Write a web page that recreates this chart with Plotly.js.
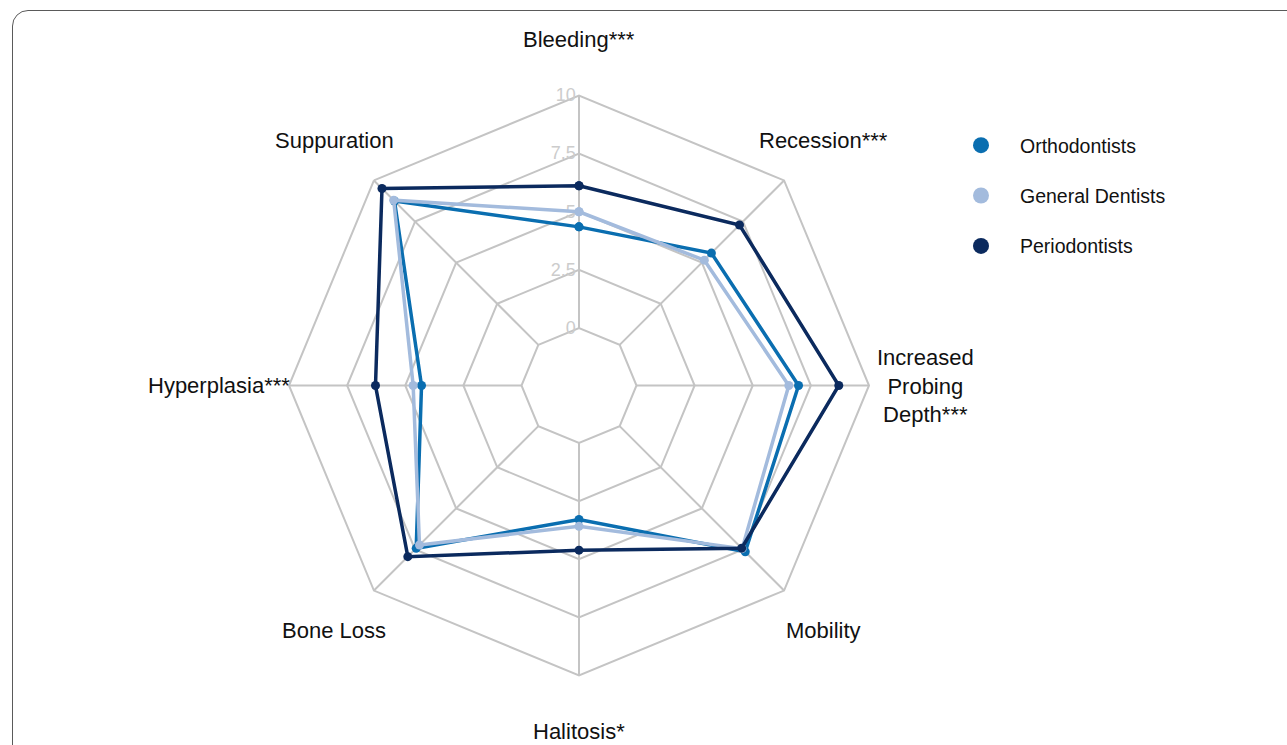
<!DOCTYPE html>
<html>
<head>
<meta charset="utf-8">
<script src="https://cdn.plot.ly/plotly-3.0.1.min.js"></script>
<style>
  html, body { margin: 0; padding: 0; background: #ffffff; overflow: hidden; }
  #chart { position: absolute; left: 0; top: 0; width: 1287px; height: 745px; }
  #frame { position: absolute; left: 12px; top: 10px; width: 1300px; height: 760px;
           border: 1.5px solid #5a5a5a; border-radius: 16px; pointer-events: none; }
</style>
</head>
<body>
<div id="chart"></div>
<div id="frame"></div>
<script>
// ---- data ----
var categories = ['Bleeding***', 'Recession***', 'Increased Probing Depth***', 'Mobility',
                  'Halitosis*', 'Bone Loss', 'Hyperplasia***', 'Suppuration'];
var axisLabels = ['Bleeding***', 'Recession***', 'Increased<br>Probing<br>Depth***', 'Mobility',
                  'Halitosis*', 'Bone Loss', 'Hyperplasia***', 'Suppuration'];
var seriesNames = ['Orthodontists', 'General Dentists', 'Periodontists'];
var orthodontists   = [4.35, 5.58, 6.97, 7.64, 3.29, 7.43, 4.30, 8.75];
var generalDentists = [5.00, 5.15, 6.55, 7.45, 3.58, 7.23, 4.66, 8.80];
var periodontists   = [6.12, 7.29, 8.70, 7.42, 4.61, 7.94, 6.28, 9.51];
var radialTicks = [0, 2.5, 5, 7.5, 10];

// ---- style ----
var colors = ['#0a6eb0', '#a3bbdd', '#0b2a5e'];
var gridColor = '#c4c4c4';
var font = 'Liberation Sans, Arial, Helvetica, sans-serif';

var allSeries = [orthodontists, generalDentists, periodontists];
var traces = [];
allSeries.forEach(function (vals, k) {
  traces.push({
    type: 'scatterpolar',
    r: vals.concat([vals[0]]),
    theta: categories.concat([categories[0]]),
    mode: 'lines+markers',
    line: { color: colors[k], width: 3.5 },
    marker: { color: colors[k], size: 9 },
    showlegend: false,
    hoverinfo: 'skip',
    name: seriesNames[k]
  });
});
// legend entries (marker-only symbols)
allSeries.forEach(function (vals, k) {
  traces.push({
    type: 'scatterpolar',
    r: [null],
    theta: [null],
    mode: 'markers',
    marker: { color: colors[k], size: 16 },
    name: seriesNames[k],
    legendgroup: 'g' + k,
    showlegend: true,
    hoverinfo: 'skip'
  });
});

var W = 1287, H = 745;
var cx = 579, cy = 385.5, R = 290;
var dom = {
  x: [(cx - R) / W, (cx + R) / W],
  y: [((H - cy) - R) / H, ((H - cy) + R) / H]
};

// category labels around the chart
var annotations = [];
var labelR = 346;
var n = categories.length;
for (var i = 0; i < n; i++) {
  var ang = (90 - i * 360 / n) * Math.PI / 180;
  annotations.push({
    xref: 'paper', yref: 'paper',
    x: (cx + labelR * Math.cos(ang)) / W,
    y: ((H - cy) + labelR * Math.sin(ang)) / H,
    xshift: (Math.abs(Math.sin(ang)) < 0.01 && Math.cos(ang) < 0) ? -14 : 0,
    text: axisLabels[i],
    showarrow: false,
    xanchor: 'center', yanchor: 'middle', align: 'center',
    font: { family: font, size: 22, color: '#111111' }
  });
}

var layout = {
  width: W, height: H,
  margin: { l: 0, r: 0, t: 0, b: 0 },
  paper_bgcolor: '#ffffff',
  showlegend: true,
  legend: {
    x: 942 / W, xanchor: 'left',
    y: (H - 126) / H, yanchor: 'top',
    itemwidth: 68,
    font: { family: font, size: 19.5, color: '#111111' },
    tracegroupgap: 22,
    bgcolor: 'rgba(0,0,0,0)'
  },
  polar: {
    domain: dom,
    hole: 57.5 / 290,
    gridshape: 'linear',
    bgcolor: '#ffffff',
    radialaxis: {
      range: [0, 10],
      tickvals: radialTicks,
      ticktext: radialTicks.map(String),
      angle: 90,
      tickangle: 90,
      side: 'counterclockwise',
      showline: false,
      ticks: '',
      gridcolor: gridColor,
      gridwidth: 2,
      tickfont: { family: font, size: 18, color: '#cccccc' },
      layer: 'below traces'
    },
    angularaxis: {
      direction: 'clockwise',
      rotation: 90,
      showticklabels: false,
      ticks: '',
      showline: true,
      linecolor: gridColor,
      linewidth: 2,
      gridcolor: gridColor,
      gridwidth: 2,
      layer: 'below traces'
    }
  },
  annotations: annotations
};

Plotly.newPlot('chart', traces, layout, { displayModeBar: false, staticPlot: true });
</script>
</body>
</html>
